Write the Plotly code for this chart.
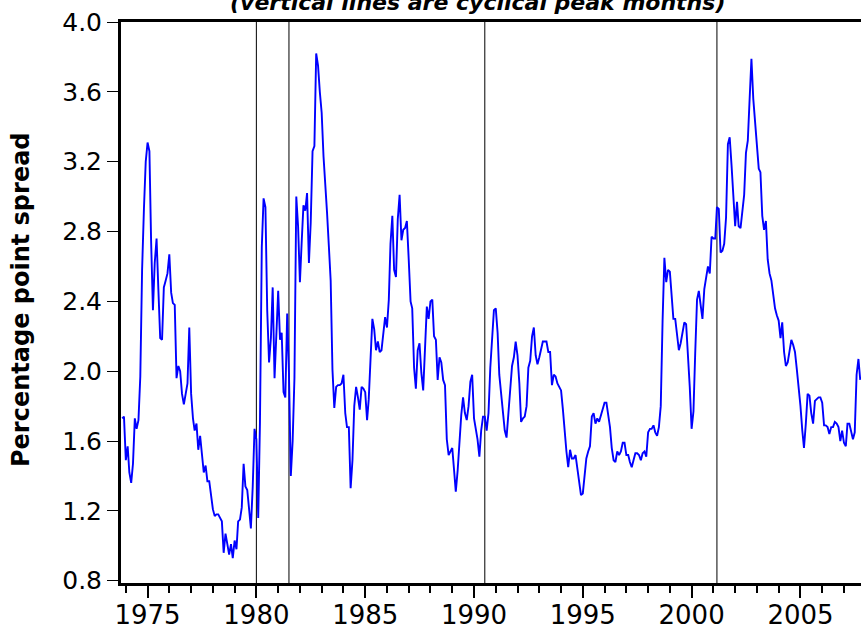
import plotly.graph_objects as go
import pandas as pd

# Monthly spread values, starting November 1973
start_month = "1973-11-01"
spread = [
    1.73, 1.74,
    1.49, 1.57, 1.42, 1.36, 1.47, 1.73, 1.67, 1.72, 1.97, 2.58, 2.93, 3.20,  # 1974
    3.31, 3.26, 2.75, 2.35, 2.62, 2.76, 2.47, 2.19, 2.18, 2.48, 2.52, 2.56,  # 1975
    2.67, 2.45, 2.39, 2.38, 1.96, 2.03, 2.00, 1.87, 1.81, 1.88, 1.93, 2.25,  # 1976
    1.87, 1.73, 1.66, 1.70, 1.55, 1.63, 1.53, 1.42, 1.46, 1.37, 1.37, 1.30,  # 1977
    1.21, 1.17, 1.18, 1.18, 1.16, 1.14, 0.96, 1.07, 1.01, 0.95, 1.01, 0.93,  # 1978
    1.03, 0.98, 1.14, 1.15, 1.22, 1.47, 1.34, 1.32, 1.21, 1.10, 1.34, 1.67,  # 1979
    1.61, 1.16, 1.70, 2.71, 2.99, 2.94, 2.35, 2.05, 2.19, 2.48, 1.96, 2.26,  # 1980
    2.46, 2.18, 2.22, 1.88, 1.85, 2.33, 1.99, 1.40, 1.60, 1.96, 3.00, 2.83,  # 1981
    2.51, 2.75, 2.95, 2.92, 3.02, 2.62, 2.85, 3.26, 3.29, 3.82, 3.75, 3.60,  # 1982
    3.48, 3.23, 3.10, 2.91, 2.72, 2.52, 2.01, 1.79, 1.91, 1.92, 1.92, 1.93,  # 1983
    1.98, 1.76, 1.68, 1.68, 1.33, 1.49, 1.80, 1.91, 1.85, 1.78, 1.91, 1.90,  # 1984
    1.88, 1.72, 1.84, 2.09, 2.30, 2.24, 2.12, 2.17, 2.11, 2.12, 2.22, 2.31,  # 1985
    2.25, 2.41, 2.73, 2.89, 2.58, 2.54, 2.87, 3.01, 2.75, 2.81, 2.82, 2.86,  # 1986
    2.64, 2.40, 2.36, 2.02, 1.90, 2.12, 2.16, 1.99, 1.89, 2.10, 2.37, 2.30,  # 1987
    2.40, 2.41, 2.20, 2.18, 1.95, 2.08, 2.05, 1.95, 1.92, 1.61, 1.52, 1.54,  # 1988
    1.56, 1.43, 1.31, 1.43, 1.61, 1.75, 1.85, 1.76, 1.72, 1.80, 1.94, 1.98,  # 1989
    1.73, 1.66, 1.61, 1.51, 1.66, 1.74, 1.74, 1.66, 1.76, 2.02, 2.23, 2.35,  # 1990
    2.36, 2.22, 1.98, 1.88, 1.79, 1.66, 1.62, 1.78, 1.89, 2.03, 2.08, 2.17,  # 1991
    2.09, 1.93, 1.71, 1.73, 1.74, 1.80, 2.02, 2.06, 2.20, 2.25, 2.09, 2.04,  # 1992
    2.08, 2.12, 2.17, 2.17, 2.17, 2.11, 2.11, 1.92, 1.98, 1.97, 1.93, 1.91,  # 1993
    1.89, 1.78, 1.65, 1.54, 1.45, 1.55, 1.50, 1.50, 1.52, 1.45, 1.37, 1.29,  # 1994
    1.30, 1.40, 1.50, 1.54, 1.57, 1.74, 1.76, 1.70, 1.73, 1.71, 1.75, 1.79,  # 1995
    1.82, 1.82, 1.76, 1.68, 1.56, 1.49, 1.48, 1.54, 1.52, 1.54, 1.59, 1.59,  # 1996
    1.52, 1.52, 1.48, 1.45, 1.49, 1.53, 1.53, 1.52, 1.49, 1.53, 1.54, 1.51,  # 1997
    1.65, 1.67, 1.67, 1.69, 1.65, 1.63, 1.68, 1.80, 2.29, 2.65, 2.51, 2.58,  # 1998
    2.57, 2.39, 2.30, 2.30, 2.20, 2.12, 2.16, 2.21, 2.28, 2.27, 2.11, 1.91,  # 1999
    1.67, 1.77, 2.10, 2.41, 2.46, 2.37, 2.30, 2.47, 2.55, 2.60, 2.56, 2.77,  # 2000
    2.76, 2.76, 2.94, 2.93, 2.68, 2.69, 2.73, 2.88, 3.30, 3.34, 3.18, 2.98,  # 2001
    2.83, 2.97, 2.83, 2.82, 2.93, 3.01, 3.25, 3.32, 3.56, 3.79, 3.56, 3.42,  # 2002
    3.31, 3.16, 3.14, 2.89, 2.81, 2.86, 2.64, 2.56, 2.52, 2.45, 2.36, 2.32,  # 2003
    2.29, 2.19, 2.28, 2.11, 2.03, 2.05, 2.13, 2.18, 2.15, 2.11, 2.01, 1.91,  # 2004
    1.80, 1.66, 1.56, 1.70, 1.87, 1.86, 1.76, 1.70, 1.83, 1.84, 1.85, 1.85,  # 2005
    1.82, 1.69, 1.69, 1.68, 1.64, 1.68, 1.68, 1.71, 1.70, 1.68, 1.60, 1.66,  # 2006
    1.59, 1.57, 1.70, 1.70, 1.66, 1.61, 1.65, 1.98, 2.07, 1.95,              # 2007
]

peak_months = ["1980-01-01", "1981-07-01", "1990-07-01", "2001-03-01"]
label_years = [1975, 1980, 1985, 1990, 1995, 2000, 2005]
y_ticks = [0.8, 1.2, 1.6, 2.0, 2.4, 2.8, 3.2, 3.6, 4.0]
title_text = "(vertical lines are cyclical peak months)"
y_title = "Percentage point spread"

dates = pd.date_range(start_month, periods=len(spread), freq="MS")

fig = go.Figure()
fig.add_trace(go.Scatter(
    x=dates, y=spread, mode="lines",
    line=dict(color="#0000FF", width=1.9),
    showlegend=False, hoverinfo="skip",
))

for pm in peak_months:
    fig.add_shape(type="line", xref="x", yref="paper", x0=pm, x1=pm, y0=0, y1=1,
                  line=dict(color="black", width=1), layer="below")

W, H = 861, 632
ML, MR, MT, MB = 121, 0, 22, 49
pw, ph = W - ML - MR, H - MT - MB

fig.add_annotation(
    text="<b><i>" + title_text + "</i></b>",
    xref="paper", yref="paper",
    x=(477 - ML) / pw, y=1 + (MT - 3) / ph,
    xanchor="center", yanchor="middle", showarrow=False,
    font=dict(family="DejaVu Sans", size=22, color="black"),
)
fig.add_annotation(
    text="<b>" + y_title + "</b>",
    xref="paper", yref="paper",
    x=(21 - ML) / pw, y=(H - MB - 300) / ph,
    xanchor="center", yanchor="middle", textangle=-90, showarrow=False,
    font=dict(family="DejaVu Sans", size=24, color="black"),
)

fig.update_layout(
    width=W, height=H,
    margin=dict(l=ML, r=MR, t=MT, b=MB, pad=0),
    paper_bgcolor="white", plot_bgcolor="white",
    xaxis=dict(
        type="date",
        range=["1973-10-12", "2007-10-14"],
        tickvals=[f"{y}-01-01" for y in label_years],
        ticktext=[str(y) for y in label_years],
        ticks="outside", ticklen=12, tickwidth=2, tickcolor="black",
        ticklabelstandoff=-5,
        minor=dict(dtick="M12", tick0="1975-01-01", ticks="outside", ticklen=7,
                   tickwidth=2, tickcolor="black", showgrid=False),
        showgrid=False, zeroline=False, automargin=False,
        showline=True, linecolor="black", linewidth=3, mirror=True,
        tickfont=dict(family="DejaVu Sans", size=26, color="black"),
    ),
    yaxis=dict(
        range=[0.787, 4.0],
        tickvals=y_ticks,
        tickformat=".1f",
        ticks="outside", ticklen=11, tickwidth=1, tickcolor="black",
        showgrid=False, zeroline=False, automargin=False,
        showline=True, linecolor="black", linewidth=3, mirror=False,
        tickfont=dict(family="DejaVu Sans", size=25, color="black"),
    ),
)

fig.write_html(
    "out.html",
    config={"displayModeBar": False},
    post_script="document.body.style.margin='0';document.body.style.overflow='hidden';",
)
